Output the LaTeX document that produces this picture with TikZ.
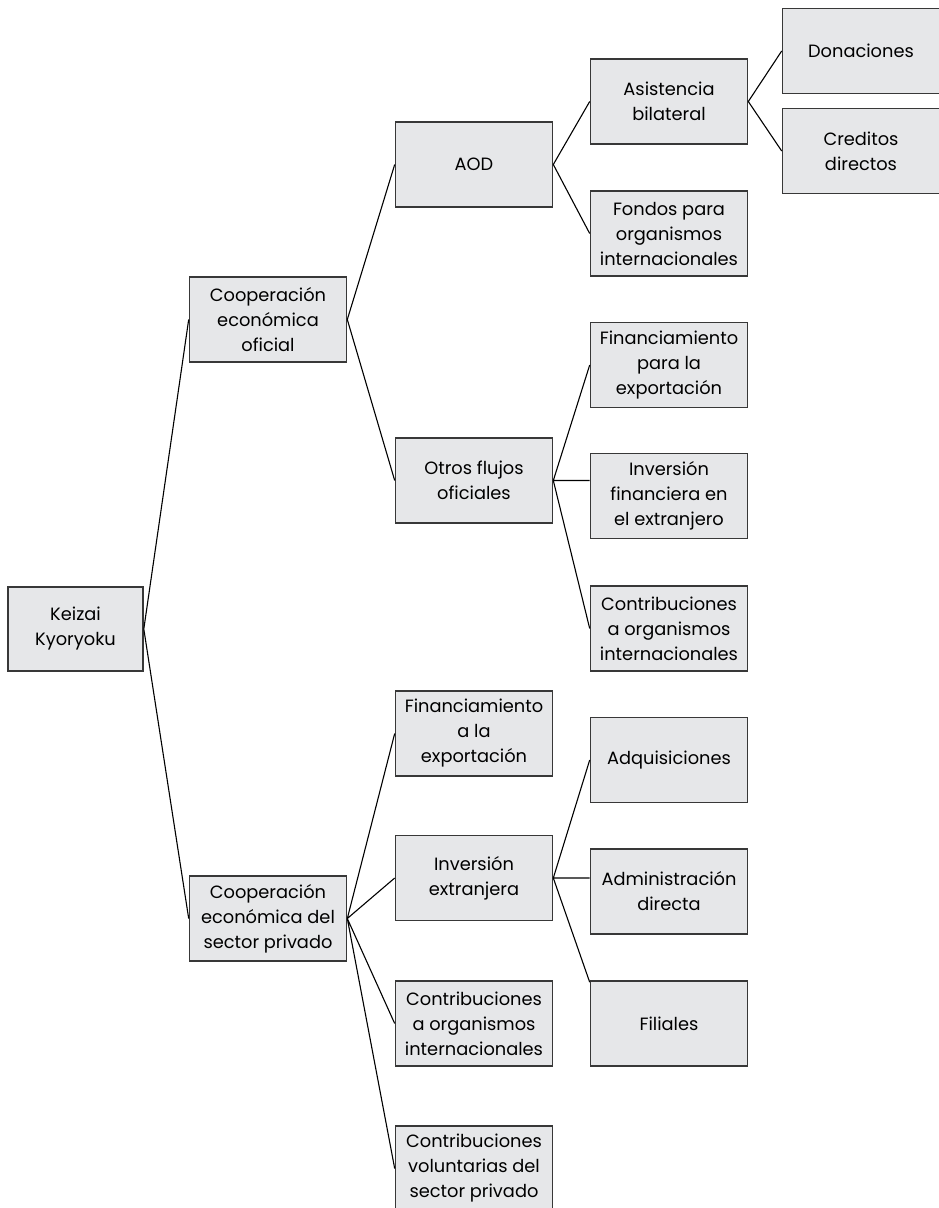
\documentclass[tikz,border=0pt]{standalone}
\usepackage{fontspec}
\setmainfont{Poppins}

\begin{document}
\begin{tikzpicture}[x=1pt, y=-1pt,
box/.style = {draw=black!78, line width=1.6pt, fill=boxgray, rectangle,
    minimum width=157pt, minimum height=85pt, inner sep=0pt, align=center,
    font=\fontsize{17.8}{25}\selectfont},
link/.style = {line width=1.1pt}]
\definecolor{boxgray}{RGB}{230,231,233}
\useasboundingbox (0,0) rectangle (938,1208);
% raiz
\node[box, minimum width=135pt, minimum height=84pt] (keizai) at (75.5,629) {Keizai\\Kyoryoku};
% primer nivel
\node[box] (oficial) at (268,319.5) {Cooperación\\económica\\oficial};
\node[box] (privado) at (268,918.5) {Cooperación\\económica del\\sector privado};
% segundo nivel
\node[box] (aod) at (474,164.5) {AOD};
\node[box] (otros) at (474,480.5) {Otros flujos\\oficiales};
\node[box] (finexp) at (474,733.5) {Financiamiento\\a la\\exportación};
\node[box] (invext) at (474,878) {Inversión\\extranjera};
\node[box] (contpriv) at (474,1023.5) {Contribuciones\\a organismos\\internacionales};
\node[box] (volunt) at (474,1168.5) {Contribuciones\\voluntarias del\\sector privado};
% tercer nivel
\node[box] (bilat) at (669,101.5) {Asistencia\\bilateral};
\node[box] (fondos) at (669,233.5) {Fondos para\\organismos\\internacionales};
\node[box] (finpara) at (669,365) {Financiamiento\\para la\\exportación};
\node[box] (invfin) at (669,496) {Inversión\\financiera en\\el extranjero};
\node[box] (contof) at (669,628.5) {Contribuciones\\a organismos\\internacionales};
\node[box] (adq) at (669,760) {Adquisiciones};
\node[box] (admin) at (669,891.5) {Administración\\directa};
\node[box] (filiales) at (669,1023.5) {Filiales};
% cuarto nivel
\node[box] (donac) at (861,51) {Donaciones};
\node[box] (credit) at (861,151) {Creditos\\directos};
% lineas
\draw[link] (keizai.east) -- (oficial.west) (keizai.east) -- (privado.west);
\draw[link] (oficial.east) -- (aod.west) (oficial.east) -- (otros.west);
\draw[link] (aod.east) -- (bilat.west) (aod.east) -- (fondos.west);
\draw[link] (bilat.east) -- (donac.west) (bilat.east) -- (credit.west);
\draw[link] (otros.east) -- (finpara.west) (otros.east) -- (otros.east -| invfin.west)
    (otros.east) -- (contof.west);
\draw[link] (privado.east) -- (finexp.west) (privado.east) -- (invext.west)
    (privado.east) -- (contpriv.west) (privado.east) -- (volunt.west);
\draw[link] (invext.east) -- (adq.west) (invext.east) -- (invext.east -| admin.west)
    (invext.east) -- ([yshift=-2pt]filiales.north west);
\end{tikzpicture}
\end{document}
